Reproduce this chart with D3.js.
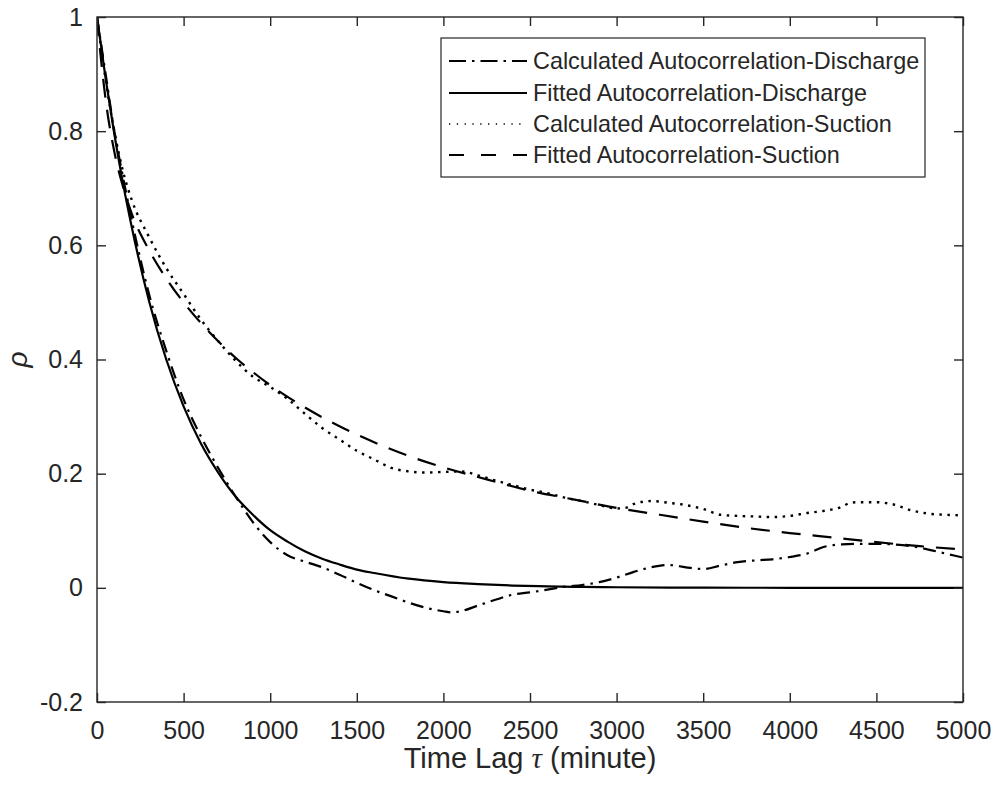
<!DOCTYPE html>
<html>
<head>
<meta charset="utf-8">
<script src="https://cdn.jsdelivr.net/npm/d3@7"></script>
<style>
  html, body { margin: 0; padding: 0; background: #fff; }
  svg { display: block; }
  text { font-family: "Liberation Sans", Arial, Helvetica, sans-serif; fill: #262626; }
</style>
</head>
<body>
<svg id="chart" width="995" height="787"></svg>
<script>
// Time lag (minutes) and autocorrelation values for each series
const lagCalcDischarge = [0, 50, 100, 150, 200, 300, 400, 500, 600, 700, 800, 900, 1000, 1100, 1200, 1300, 1400, 1500, 1600, 1700, 1800, 1900, 2000, 2050, 2100, 2200, 2300, 2400, 2500, 2600, 2700, 2800, 2900, 3000, 3100, 3200, 3300, 3400, 3500, 3600, 3700, 3800, 3900, 4000, 4100, 4200, 4300, 4400, 4500, 4600, 4700, 4800, 4900, 5000];
const rhoCalcDischarge = [1.0, 0.90, 0.80, 0.72, 0.645, 0.515, 0.415, 0.33, 0.265, 0.21, 0.16, 0.115, 0.08, 0.057, 0.046, 0.036, 0.023, 0.009, -0.004, -0.015, -0.026, -0.035, -0.041, -0.043, -0.041, -0.031, -0.021, -0.012, -0.008, -0.003, 0.002, 0.005, 0.010, 0.018, 0.028, 0.036, 0.040, 0.036, 0.033, 0.039, 0.045, 0.048, 0.050, 0.054, 0.060, 0.072, 0.076, 0.077, 0.077, 0.076, 0.073, 0.067, 0.060, 0.053];

const lagFitDischarge = [0, 50, 100, 150, 200, 300, 400, 500, 600, 700, 800, 900, 1000, 1100, 1200, 1300, 1400, 1500, 1600, 1800, 2000, 2200, 2400, 2600, 2800, 3000, 3500, 4000, 4500, 5000];
const rhoFitDischarge = [1.0, 0.892, 0.795, 0.709, 0.633, 0.503, 0.400, 0.318, 0.253, 0.202, 0.160, 0.128, 0.101, 0.081, 0.064, 0.051, 0.041, 0.032, 0.026, 0.016, 0.010, 0.0065, 0.004, 0.0026, 0.0016, 0.001, 0.0003, 0.0001, 0, 0];

const lagCalcSuction = [0, 50, 100, 150, 200, 300, 400, 500, 600, 700, 800, 900, 1000, 1100, 1200, 1300, 1400, 1500, 1600, 1700, 1800, 1900, 2000, 2100, 2200, 2300, 2400, 2500, 2600, 2700, 2800, 2900, 3000, 3050, 3100, 3200, 3300, 3400, 3500, 3600, 3700, 3800, 3900, 4000, 4100, 4200, 4300, 4350, 4400, 4500, 4600, 4700, 4800, 4900, 5000];
const rhoCalcSuction = [1.0, 0.89, 0.80, 0.73, 0.68, 0.615, 0.56, 0.515, 0.47, 0.432, 0.398, 0.37, 0.352, 0.331, 0.305, 0.28, 0.26, 0.24, 0.225, 0.21, 0.204, 0.202, 0.203, 0.204, 0.197, 0.188, 0.180, 0.172, 0.166, 0.158, 0.152, 0.145, 0.139, 0.140, 0.147, 0.152, 0.149, 0.145, 0.138, 0.128, 0.126, 0.125, 0.124, 0.126, 0.131, 0.135, 0.142, 0.149, 0.150, 0.150, 0.146, 0.136, 0.130, 0.128, 0.127];

const lagFitSuction = [0, 25, 50, 100, 150, 200, 300, 400, 500, 600, 700, 800, 900, 1000, 1200, 1400, 1600, 1800, 2000, 2250, 2500, 2750, 3000, 3250, 3500, 3750, 4000, 4250, 4500, 4750, 5000];
const rhoFitSuction = [1.0, 0.92, 0.855, 0.764, 0.703, 0.656, 0.592, 0.542, 0.50, 0.464, 0.432, 0.403, 0.378, 0.355, 0.316, 0.283, 0.255, 0.231, 0.211, 0.190, 0.170, 0.155, 0.140, 0.128, 0.116, 0.105, 0.096, 0.088, 0.080, 0.073, 0.067];

const seriesNames = [
  "Calculated Autocorrelation-Discharge",
  "Fitted Autocorrelation-Discharge",
  "Calculated Autocorrelation-Suction",
  "Fitted Autocorrelation-Suction"
];

const xTickValues = [0, 500, 1000, 1500, 2000, 2500, 3000, 3500, 4000, 4500, 5000];
const yTickValues = [-0.2, 0, 0.2, 0.4, 0.6, 0.8, 1];
const yTickLabels = ["-0.2", "0", "0.2", "0.4", "0.6", "0.8", "1"];

// Plot frame
const frame = { left: 97, right: 963, top: 17, bottom: 702 };
const axisColor = "#262626";

const svg = d3.select("#chart");

const x = d3.scaleLinear().domain([0, 5000]).range([frame.left, frame.right]);
const y = d3.scaleLinear().domain([-0.2, 1]).range([frame.bottom, frame.top]);

// Clip region for the data lines
svg.append("defs").append("clipPath").attr("id", "plotClip")
  .append("rect").attr("x", frame.left).attr("y", frame.top)
  .attr("width", frame.right - frame.left).attr("height", frame.bottom - frame.top);

// Line styles per series
const styles = [
  { dash: "13,6,2.5,6", width: 2.2 },
  { dash: null, width: 2.2 },
  { dash: "2.5,5.5", width: 2.4 },
  { dash: "19,12", width: 2.2 }
];

const data = [
  d3.zip(lagCalcDischarge, rhoCalcDischarge),
  d3.zip(lagFitDischarge, rhoFitDischarge),
  d3.zip(lagCalcSuction, rhoCalcSuction),
  d3.zip(lagFitSuction, rhoFitSuction)
];

const line = d3.line()
  .x(d => x(d[0]))
  .y(d => y(d[1]))
  .curve(d3.curveMonotoneX);

const plot = svg.append("g").attr("clip-path", "url(#plotClip)");
data.forEach((pts, i) => {
  plot.append("path")
    .datum(pts)
    .attr("d", line)
    .attr("fill", "none")
    .attr("stroke", "#000")
    .attr("stroke-width", styles[i].width)
    .attr("stroke-dasharray", styles[i].dash)
    .attr("stroke-linejoin", "round");
});

// Axes (ticks point inward on all four sides)
const tickLen = 9;
const fmtY = d => yTickLabels[yTickValues.indexOf(d)];

const xAxisBottom = svg.append("g")
  .attr("transform", `translate(0,${frame.bottom})`)
  .call(d3.axisBottom(x).tickValues(xTickValues).tickSizeInner(-tickLen).tickSizeOuter(0).tickPadding(19).tickFormat(d3.format("d")));
const xAxisTop = svg.append("g")
  .attr("transform", `translate(0,${frame.top})`)
  .call(d3.axisTop(x).tickValues(xTickValues).tickSizeInner(-tickLen).tickSizeOuter(0).tickFormat(""));
const yAxisLeft = svg.append("g")
  .attr("transform", `translate(${frame.left},0)`)
  .call(d3.axisLeft(y).tickValues(yTickValues).tickSizeInner(-tickLen).tickSizeOuter(0).tickPadding(14).tickFormat(fmtY));
const yAxisRight = svg.append("g")
  .attr("transform", `translate(${frame.right},0)`)
  .call(d3.axisRight(y).tickValues(yTickValues).tickSizeInner(-tickLen).tickSizeOuter(0).tickFormat(""));

[xAxisBottom, xAxisTop, yAxisLeft, yAxisRight].forEach(g => {
  g.select(".domain").remove();
  g.selectAll(".tick line").attr("stroke", axisColor).attr("stroke-width", 1.4);
  g.selectAll(".tick text")
    .attr("font-family", '"Liberation Sans", Arial, sans-serif')
    .attr("font-size", 25)
    .attr("fill", axisColor);
});

// Axes box
svg.append("rect")
  .attr("x", frame.left).attr("y", frame.top)
  .attr("width", frame.right - frame.left).attr("height", frame.bottom - frame.top)
  .attr("fill", "none").attr("stroke", axisColor).attr("stroke-width", 1.4);

// Axis titles
const xTitle = svg.append("text")
  .attr("x", (frame.left + frame.right) / 2).attr("y", 768)
  .attr("text-anchor", "middle")
  .attr("font-size", 29);
xTitle.append("tspan").text("Time Lag ");
xTitle.append("tspan").attr("font-family", '"Liberation Serif", "Times New Roman", serif').attr("font-style", "italic").text("τ");
xTitle.append("tspan").text(" (minute)");

svg.append("text")
  .attr("transform", `translate(27,${(frame.top + frame.bottom) / 2}) rotate(-90)`)
  .attr("text-anchor", "middle")
  .attr("font-family", '"Liberation Serif", "Times New Roman", serif')
  .attr("font-style", "italic")
  .attr("font-size", 28)
  .text("ρ");

// Legend
const legX = 441, legY = 38, legW = 484, legH = 139;
const legend = svg.append("g");
legend.append("rect")
  .attr("x", legX).attr("y", legY).attr("width", legW).attr("height", legH)
  .attr("fill", "#fff").attr("stroke", axisColor).attr("stroke-width", 1.2);

const rowY = [61, 93, 124, 155];
const legendDash = ["17,6,2.5,6", null, "1.3,6.5", "15,17"];
const legendWidth = [2, 2, 1.3, 2];
seriesNames.forEach((name, i) => {
  legend.append("line")
    .attr("x1", 449).attr("x2", 527)
    .attr("y1", rowY[i]).attr("y2", rowY[i])
    .attr("stroke", "#000")
    .attr("stroke-width", legendWidth[i])
    .attr("stroke-dasharray", legendDash[i]);
  legend.append("text")
    .attr("x", 533).attr("y", rowY[i])
    .attr("dy", "0.35em")
    .attr("font-size", 23.4)
    .text(name);
});
</script>
</body>
</html>
